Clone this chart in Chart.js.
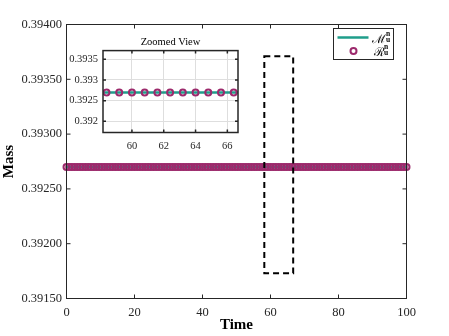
<!DOCTYPE html>
<html>
<head>
<meta charset="utf-8">
<script src="https://cdn.jsdelivr.net/npm/chart.js@4"></script>
<style>
  body { margin: 0; background: #fff; }
  .wrap { position: relative; width: 449px; height: 336px; }
  .wrap canvas { position: absolute; left: 0; top: 0; }
</style>
</head>
<body>
<div class="wrap">
  <canvas id="mainChart" width="449" height="336"></canvas>
  <canvas id="insetChart" width="449" height="336"></canvas>
</div>
<script>
/* ===============================
   DATA
================================ */
const timeValues = [
  0, 0.8, 1.6, 2.4, 3.2, 4, 4.8, 5.6, 6.4, 7.2,
  8, 8.8, 9.6, 10.4, 11.2, 12, 12.8, 13.6, 14.4, 15.2,
  16, 16.8, 17.6, 18.4, 19.2, 20, 20.8, 21.6, 22.4, 23.2,
  24, 24.8, 25.6, 26.4, 27.2, 28, 28.8, 29.6, 30.4, 31.2,
  32, 32.8, 33.6, 34.4, 35.2, 36, 36.8, 37.6, 38.4, 39.2,
  40, 40.8, 41.6, 42.4, 43.2, 44, 44.8, 45.6, 46.4, 47.2,
  48, 48.8, 49.6, 50.4, 51.2, 52, 52.8, 53.6, 54.4, 55.2,
  56, 56.8, 57.6, 58.4, 59.2, 60, 60.8, 61.6, 62.4, 63.2,
  64, 64.8, 65.6, 66.4, 67.2, 68, 68.8, 69.6, 70.4, 71.2,
  72, 72.8, 73.6, 74.4, 75.2, 76, 76.8, 77.6, 78.4, 79.2,
  80, 80.8, 81.6, 82.4, 83.2, 84, 84.8, 85.6, 86.4, 87.2,
  88, 88.8, 89.6, 90.4, 91.2, 92, 92.8, 93.6, 94.4, 95.2,
  96, 96.8, 97.6, 98.4, 99.2, 100
];

const massValues = [
  0.3927, 0.3927, 0.3927, 0.3927, 0.3927, 0.3927, 0.3927, 0.3927, 0.3927, 0.3927,
  0.3927, 0.3927, 0.3927, 0.3927, 0.3927, 0.3927, 0.3927, 0.3927, 0.3927, 0.3927,
  0.3927, 0.3927, 0.3927, 0.3927, 0.3927, 0.3927, 0.3927, 0.3927, 0.3927, 0.3927,
  0.3927, 0.3927, 0.3927, 0.3927, 0.3927, 0.3927, 0.3927, 0.3927, 0.3927, 0.3927,
  0.3927, 0.3927, 0.3927, 0.3927, 0.3927, 0.3927, 0.3927, 0.3927, 0.3927, 0.3927,
  0.3927, 0.3927, 0.3927, 0.3927, 0.3927, 0.3927, 0.3927, 0.3927, 0.3927, 0.3927,
  0.3927, 0.3927, 0.3927, 0.3927, 0.3927, 0.3927, 0.3927, 0.3927, 0.3927, 0.3927,
  0.3927, 0.3927, 0.3927, 0.3927, 0.3927, 0.3927, 0.3927, 0.3927, 0.3927, 0.3927,
  0.3927, 0.3927, 0.3927, 0.3927, 0.3927, 0.3927, 0.3927, 0.3927, 0.3927, 0.3927,
  0.3927, 0.3927, 0.3927, 0.3927, 0.3927, 0.3927, 0.3927, 0.3927, 0.3927, 0.3927,
  0.3927, 0.3927, 0.3927, 0.3927, 0.3927, 0.3927, 0.3927, 0.3927, 0.3927, 0.3927,
  0.3927, 0.3927, 0.3927, 0.3927, 0.3927, 0.3927, 0.3927, 0.3927, 0.3927, 0.3927,
  0.3927, 0.3927, 0.3927, 0.3927, 0.3927, 0.3927
];

const xTicks = [0, 20, 40, 60, 80, 100];
const yTicks = [0.3915, 0.392, 0.3925, 0.393, 0.3935, 0.394];
const yTickLabels = ['0.39150', '0.39200', '0.39250', '0.39300', '0.39350', '0.39400'];

const zoomXRange = [58.18, 66.67];
const zoomYRange = [0.39173, 0.39371];
const zoomXTicks = [60, 62, 64, 66];
const zoomYTicks = [0.392, 0.3925, 0.393, 0.3935];
const zoomYTickLabels = ['0.392', '0.3925', '0.393', '0.3935'];

/* ===============================
   STYLE
================================ */
const TEAL = '#1f9e8b';
const PLUM = '#9c2a6c';
const AXIS = '#262626';
const SERIF = '"Liberation Serif", "DejaVu Serif", serif';

const points = timeValues.map((t, i) => ({ x: t, y: massValues[i] }));

function fixedTicks(values) {
    return scale => { scale.ticks = values.map(v => ({ value: v })); };
}

// first dataset is painted last, so the markers go first to sit on the line
function datasets(clip) {
    return [{
        data: points,
        showLine: false,
        pointStyle: 'circle',
        pointRadius: 3,
        pointBorderWidth: 2,
        pointBorderColor: PLUM,
        pointBackgroundColor: 'rgba(0,0,0,0)',
        clip: clip
    }, {
        data: points,
        borderColor: TEAL,
        borderWidth: 2.5,
        pointRadius: 0,
        fill: false,
        clip: clip
    }];
}

/* ===============================
   PLUGINS
================================ */
function framePlugin(tickLen, lineWidth) {
    return {
        id: 'frame',
        afterDatasetsDraw(chart) {
            const { ctx, chartArea: a, scales: { x, y } } = chart;
            ctx.save();
            ctx.strokeStyle = AXIS;
            ctx.lineWidth = lineWidth;
            ctx.strokeRect(a.left, a.top, a.right - a.left, a.bottom - a.top);
            ctx.beginPath();
            x.ticks.forEach(t => {
                const px = x.getPixelForValue(t.value);
                ctx.moveTo(px, a.bottom); ctx.lineTo(px, a.bottom - tickLen);
                ctx.moveTo(px, a.top); ctx.lineTo(px, a.top + tickLen);
            });
            y.ticks.forEach(t => {
                const py = y.getPixelForValue(t.value);
                ctx.moveTo(a.left, py); ctx.lineTo(a.left + tickLen, py);
                ctx.moveTo(a.right, py); ctx.lineTo(a.right - tickLen, py);
            });
            ctx.stroke();
            ctx.restore();
        }
    };
}

const zoomBoxPlugin = {
    id: 'zoomBox',
    afterDatasetsDraw(chart) {
        const { ctx, scales: { x, y } } = chart;
        const x0 = x.getPixelForValue(zoomXRange[0]);
        const x1 = x.getPixelForValue(zoomXRange[1]);
        const y0 = y.getPixelForValue(zoomYRange[1]);
        const y1 = y.getPixelForValue(zoomYRange[0]);
        ctx.save();
        ctx.strokeStyle = '#000';
        ctx.lineWidth = 2;
        ctx.setLineDash([6, 4]);
        ctx.strokeRect(x0, y0, x1 - x0, y1 - y0);
        ctx.restore();
    }
};

function mathLabel(ctx, base, x, baseline) {
    ctx.font = '12px "DejaVu Serif", serif';
    ctx.fillText(base, x, baseline);
    const w = ctx.measureText(base).width;
    ctx.font = 'bold 7.5px ' + SERIF;
    ctx.fillText('n', x + w + 0.5, baseline - 6.5);
    ctx.fillText('u', x + w + 0.5, baseline - 0.5);
}

const legendPlugin = {
    id: 'mathLegend',
    afterDraw(chart) {
        const { ctx, chartArea: a } = chart;
        const left = a.right - 73, top = a.top + 4, w = 60, h = 31;
        ctx.save();
        ctx.fillStyle = '#fff';
        ctx.fillRect(left, top, w, h);
        ctx.strokeStyle = AXIS;
        ctx.lineWidth = 1;
        ctx.strokeRect(left, top, w, h);

        ctx.strokeStyle = TEAL;
        ctx.lineWidth = 2.5;
        ctx.beginPath();
        ctx.moveTo(left + 4, top + 9);
        ctx.lineTo(left + 35, top + 9);
        ctx.stroke();

        ctx.strokeStyle = PLUM;
        ctx.lineWidth = 2;
        ctx.beginPath();
        ctx.arc(left + 20, top + 22.5, 3, 0, Math.PI * 2);
        ctx.stroke();

        ctx.fillStyle = '#000';
        ctx.textBaseline = 'alphabetic';
        mathLabel(ctx, 'ℳ', left + 38, top + 14);
        mathLabel(ctx, 'ℛ', left + 40, top + 27);
        ctx.restore();
    }
};

/* ===============================
   MAIN CHART
================================ */
new Chart(document.getElementById('mainChart'), {
    type: 'line',
    data: { datasets: datasets(false) },
    options: {
        responsive: false,
        animation: false,
        layout: { padding: { top: 24.5, right: 42.5, left: 0, bottom: 0 } },
        plugins: { legend: { display: false }, tooltip: { enabled: false } },
        scales: {
            x: {
                type: 'linear',
                min: 0,
                max: 100,
                afterBuildTicks: fixedTicks(xTicks),
                afterFit: s => { s.height = 37.5; },
                grid: { display: false, drawTicks: false },
                border: { display: false },
                ticks: { color: AXIS, padding: 6.5, maxRotation: 0, font: { family: SERIF, size: 12.5 } },
                title: {
                    display: true,
                    text: 'Time',
                    color: '#000',
                    padding: { top: 0, bottom: 2 },
                    font: { family: SERIF, size: 15, weight: 'bold' }
                }
            },
            y: {
                type: 'linear',
                min: 0.3915,
                max: 0.394,
                afterBuildTicks: fixedTicks(yTicks),
                afterFit: s => { s.width = 66.5; },
                grid: { display: false, drawTicks: false },
                border: { display: false },
                ticks: {
                    color: AXIS,
                    padding: 4.5,
                    callback: (v, i) => yTickLabels[i],
                    font: { family: SERIF, size: 12.5 }
                },
                title: {
                    display: true,
                    text: 'Mass',
                    color: '#000',
                    padding: { top: 0, bottom: 0 },
                    font: { family: SERIF, size: 15, weight: 'bold' }
                }
            }
        }
    },
    plugins: [framePlugin(4, 1), zoomBoxPlugin, legendPlugin]
});

/* ===============================
   INSET (ZOOMED VIEW)
================================ */
new Chart(document.getElementById('insetChart'), {
    type: 'line',
    data: { datasets: datasets(undefined) },
    options: {
        responsive: false,
        animation: false,
        layout: { padding: { top: 36, right: 211, left: 53, bottom: 183.5 } },
        plugins: {
            legend: { display: false },
            tooltip: { enabled: false },
            title: {
                display: true,
                text: 'Zoomed View',
                fullSize: false,
                color: '#000',
                padding: { top: 0, bottom: 2 },
                font: { family: SERIF, size: 10.5, weight: 'normal' }
            }
        },
        scales: {
            x: {
                type: 'linear',
                min: zoomXRange[0],
                max: zoomXRange[1],
                afterBuildTicks: fixedTicks(zoomXTicks),
                afterFit: s => { s.height = 20; },
                grid: { color: '#dedede', lineWidth: 1, drawTicks: false },
                border: { display: false },
                ticks: { color: AXIS, padding: 7, maxRotation: 0, font: { family: SERIF, size: 10.5 } }
            },
            y: {
                type: 'linear',
                min: zoomYRange[0],
                max: zoomYRange[1],
                afterBuildTicks: fixedTicks(zoomYTicks),
                afterFit: s => { s.width = 50; },
                grid: { color: '#dedede', lineWidth: 1, drawTicks: false },
                border: { display: false },
                ticks: {
                    color: AXIS,
                    padding: 5,
                    callback: (v, i) => zoomYTickLabels[i],
                    font: { family: SERIF, size: 10.5 }
                }
            }
        }
    },
    plugins: [framePlugin(3, 1.5)]
});
</script>
</body>
</html>
